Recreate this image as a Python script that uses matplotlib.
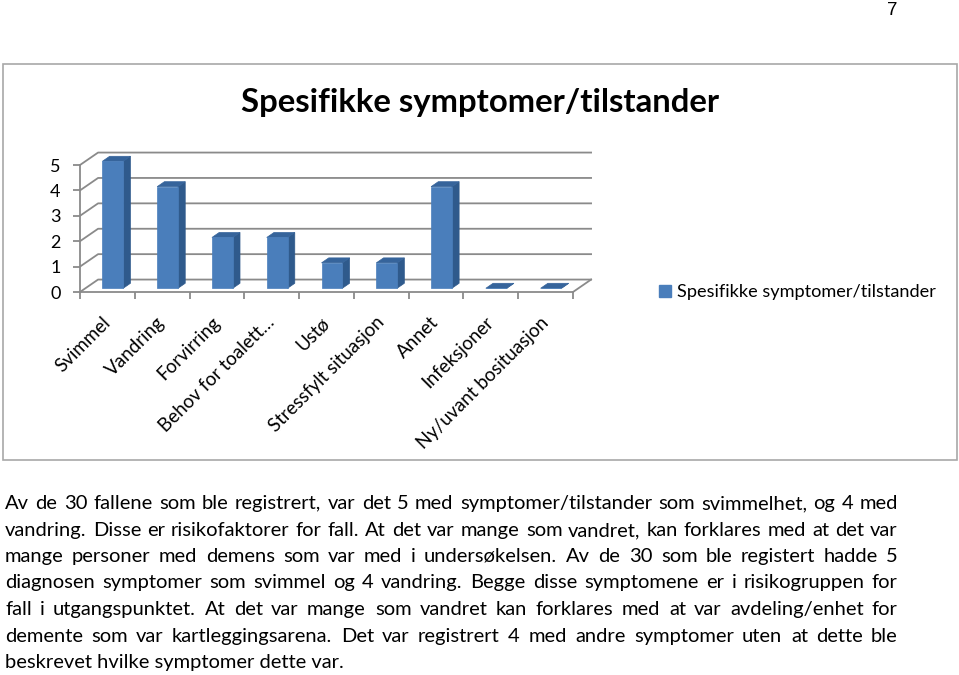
import matplotlib
matplotlib.use("Agg")
import matplotlib.pyplot as plt
from matplotlib.patches import Polygon, Rectangle, Patch

# data
categories = ["Svimmel", "Vandring", "Forvirring", "Behov for toalett…", "Ustø",
              "Stressfylt situasjon", "Annet", "Infeksjoner", "Ny/uvant bosituasjon"]
values = [5, 4, 2, 2, 1, 1, 4, 0, 0]
yticks = [0, 1, 2, 3, 4, 5]
title = "Spesifikke symptomer/tilstander"
series_name = "Spesifikke symptomer/tilstander"
page_no = "7"
body_lines = [
    "Av de 30 fallene som ble registrert, var det 5 med symptomer/tilstander som svimmelhet, og 4 med",
    "vandring. Disse er risikofaktorer for fall. At det var mange som vandret, kan forklares med at det var",
    "mange personer med demens som var med i undersøkelsen. Av de 30 som ble registert hadde 5",
    "diagnosen symptomer som svimmel og 4 vandring. Begge disse symptomene er i risikogruppen for",
    "fall i utgangspunktet. At det var mange som vandret kan forklares med at var avdeling/enhet for",
    "demente som var kartleggingsarena. Det var registrert 4 med andre symptomer uten at dette ble",
    "beskrevet hvilke symptomer dette var.",
]

W, H = 959, 675
FONT = "Lato"
GRID = "#8a8a8a"
FRONT, SIDE, TOP = "#4a7ebb", "#2f5a8c", "#36649b"

fig = plt.figure(figsize=(W / 100, H / 100), dpi=100)
renderer = fig.canvas.get_renderer()


def fx(x):
    return x / W


def fy(y):
    return 1 - y / H


def text_width(s, **kw):
    t = fig.text(0, 0, s, **kw)
    w = t.get_window_extent(renderer=renderer).width
    t.remove()
    return w


def fit_size(s, target, base=12, **kw):
    return base * target / text_width(s, size=base, **kw)


# page number and chart frame
fig.text(fx(898), fy(15), page_no, family="Liberation Sans", size=13.5,
         ha="right", va="baseline")
fig.add_artist(Rectangle((fx(3), fy(460)), 954 / W, 396 / H, transform=fig.transFigure,
                         fill=False, ec="#a8a8a8", lw=1.2))

tsize = fit_size(title, 480, base=20, family=FONT, weight="bold")
fig.text(fx(480), fy(112), title, family=FONT, weight="bold", size=tsize,
         ha="center", va="baseline")

# pseudo 3D column chart
n = len(categories)
DX, DY = 0.33, 0.49          # depth offset in data units
F0, F1, HW = 0.3, 0.7, 0.19  # bar depth span and half width

ax = fig.add_axes([fx(80), fy(292), 493 / W, 127 / H])
ax.set_xlim(-0.5, n - 0.5)
ax.set_ylim(0, 5)
ax.set_facecolor("none")
for s in ["top", "right"]:
    ax.spines[s].set_visible(False)
for s in ["left", "bottom"]:
    ax.spines[s].set_color(GRID)
    ax.spines[s].set_linewidth(1.3)

for y in yticks:
    ax.plot([-0.5, -0.5 + DX, n - 0.5 + DX], [y, y + DY, y + DY],
            color=GRID, lw=1.3, clip_on=False, zorder=1)
ax.plot([n - 0.5, n - 0.5 + DX], [0, DY], color=GRID, lw=1.3, clip_on=False, zorder=1)

d, dd = (F1 - F0) * DX, (F1 - F0) * DY
for i, v in enumerate(values):
    x0, x1 = i - HW + F0 * DX, i + HW + F0 * DX
    y0, y1 = F0 * DY, v + F0 * DY
    side = [(x1, y0), (x1 + d, y0 + dd), (x1 + d, y1 + dd), (x1, y1)]
    top = [(x0, y1), (x1, y1), (x1 + d, y1 + dd), (x0 + d, y1 + dd)]
    front = [(x0, y0), (x1, y0), (x1, y1), (x0, y1)]
    for pts, c in [(side, SIDE), (top, TOP), (front, FRONT)]:
        ax.add_patch(Polygon(pts, closed=True, fc=c, ec=c, lw=0.5,
                             clip_on=False, zorder=3))

ax.set_yticks(yticks)
ax.set_yticklabels([str(t) for t in yticks], family=FONT, size=13)
ax.tick_params(axis="y", length=5, width=1.3, color=GRID, pad=9)

ax.set_xticks(range(n))
ax.set_xticklabels(categories, family=FONT, size=13.5, rotation=45,
                   ha="right", va="center", rotation_mode="anchor")
ax.set_xticks([i - 0.5 for i in range(n + 1)], minor=True)
ax.tick_params(axis="x", which="major", length=0, pad=20)
ax.tick_params(axis="x", which="minor", length=5, width=1.3, color=GRID)

lsize = fit_size(series_name, 258, base=12, family=FONT)
fig.legend(handles=[Patch(color=FRONT)], labels=[series_name],
           loc="center left", bbox_to_anchor=(fx(659), fy(292)),
           frameon=False, handlelength=0.65, handleheight=0.65,
           handletextpad=0.35, borderpad=0, borderaxespad=0,
           prop={"family": FONT, "size": lsize})

# justified body text
bsize = fit_size(body_lines[-1], 338, base=13, family=FONT)
left, right = 5, 898
base0, step = 509, 26.5
for k, line in enumerate(body_lines):
    yb = fy(round(base0 + k * step))
    if k == len(body_lines) - 1:
        fig.text(fx(left), yb, line, family=FONT, size=bsize, va="baseline")
        continue
    words = line.split(" ")
    widths = [text_width(w, family=FONT, size=bsize) for w in words]
    gap = (right - left - sum(widths)) / (len(words) - 1)
    x = left
    for w, wd in zip(words, widths):
        fig.text(fx(round(x)), yb, w, family=FONT, size=bsize, va="baseline")
        x += wd + gap

fig.savefig("out.png", dpi=100)
